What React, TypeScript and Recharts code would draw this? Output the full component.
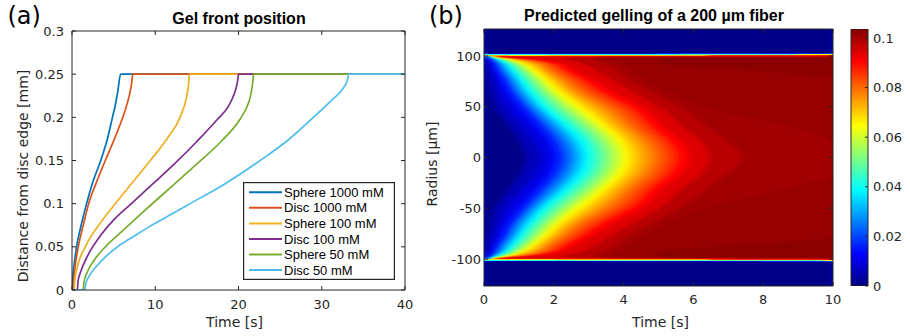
import React from 'react';
import {
  LineChart, Line, XAxis, YAxis, Legend, ComposedChart, Area, CartesianGrid, BarChart, Bar,
} from 'recharts';

// ---------------- Panel (a): gel front position ----------------
const timeTicks = [0, 10, 20, 30, 40];
const distanceTicks = [0, 0.05, 0.1, 0.15, 0.2, 0.25, 0.3];

const sphere1000Time = [0, 0.05, 0.2, 0.55, 1.1, 1.75, 2.5, 3.45, 4.25, 4.86, 5.2, 5.5, 5.84, 40];
const sphere1000Dist = [0, 0.01, 0.025, 0.05, 0.075, 0.1, 0.125, 0.15, 0.175, 0.2, 0.214, 0.23, 0.25, 0.25];

const disc1000Time = [0, 0.15, 0.2, 0.35, 0.75, 1.35, 2.0, 2.95, 4.0, 5.1, 6.1, 6.6, 6.95, 7.17, 7.3, 40];
const disc1000Dist = [0, 0, 0.01, 0.025, 0.05, 0.075, 0.1, 0.125, 0.15, 0.175, 0.2, 0.215, 0.228, 0.24, 0.25, 0.25];

const sphere100Time = [0, 0.25, 0.32, 0.6, 1.6, 3.2, 5.2, 7.3, 9.4, 11.4, 12.97, 13.77, 14.0, 14.1, 40];
const sphere100Dist = [0, 0, 0.01, 0.025, 0.05, 0.075, 0.1, 0.125, 0.15, 0.175, 0.2, 0.224, 0.238, 0.25, 0.25];

const disc100Time = [0, 0.65, 0.72, 1.0, 1.9, 3.2, 4.9, 7.0, 9.6, 12.3, 15.0, 17.5, 18.8, 19.55, 19.85, 19.96, 20.0, 40];
const disc100Dist = [0, 0, 0.01, 0.02, 0.04, 0.06, 0.08, 0.099, 0.122, 0.146, 0.172, 0.198, 0.213, 0.229, 0.24, 0.247, 0.25, 0.25];

const sphere50Time = [0, 1.35, 1.42, 1.8, 2.7, 4.0, 5.6, 7.4, 9.3, 12.1, 15.0, 17.9, 20.2, 21.0, 21.4, 21.65, 21.77, 21.8, 40];
const sphere50Dist = [0, 0, 0.008, 0.02, 0.035, 0.05, 0.0645, 0.0805, 0.097, 0.121, 0.146, 0.172, 0.198, 0.212, 0.223, 0.236, 0.246, 0.25, 0.25];

const disc50Time = [0, 1.55, 1.62, 2.0, 3.0, 4.2, 5.6, 7.4, 9.4, 11.6, 13.8, 18.2, 22.3, 26.0, 29.0, 31.2, 32.6, 33.0, 33.17, 33.22, 40];
const disc50Dist = [0, 0, 0.006, 0.015, 0.028, 0.04, 0.051, 0.062, 0.074, 0.086, 0.098, 0.122, 0.148, 0.174, 0.2, 0.22, 0.234, 0.241, 0.247, 0.25, 0.25];

const seriesNames = ['Sphere 1000 mM', 'Disc 1000 mM', 'Sphere 100 mM', 'Disc 100 mM', 'Sphere 50 mM', 'Disc 50 mM'];
const seriesColors = ['#0072BD', '#D95319', '#EDB120', '#7E2F8E', '#77AC30', '#4DBEEE'];
const seriesTimes = [sphere1000Time, disc1000Time, sphere100Time, disc100Time, sphere50Time, disc50Time];
const seriesDists = [sphere1000Dist, disc1000Dist, sphere100Dist, disc100Dist, sphere50Dist, disc50Dist];

const series = seriesNames.map((name, i) => ({
  name,
  color: seriesColors[i],
  data: seriesTimes[i].map((t, k) => ({ t, d: seriesDists[i][k] })),
}));

// ---------------- Panel (b): predicted gelling map ----------------
const heatTimeTicks = [0, 2, 4, 6, 8, 10];
const radiusTicks = [-100, -50, 0, 50, 100];
const colorbarTicks = [0, 0.02, 0.04, 0.06, 0.08, 0.1];
const colorbarMax = 0.1036;
const radiusLimit = 126.6;

// contour levels of the gelling map
const gelLevels = [0.004, 0.008, 0.012, 0.016, 0.02, 0.024, 0.028, 0.032, 0.036, 0.04, 0.044, 0.048, 0.052, 0.056, 0.06,
  0.064, 0.068, 0.072, 0.076, 0.08, 0.084, 0.088, 0.092, 0.096, 0.0995, 0.1007, 0.1017];

// radii (µm, map is symmetric about 0) and the time (s) at which each level is reached there (10 = not within 10 s)
const radii = [0, 15, 30, 48, 65, 78, 86, 93, 97, 98.8, 99.5, 100.5, 101.3, 101.9, 102.5, 103, 126.6];
const timesR0 = [1.2, 1.62, 1.95, 2.13, 2.28, 2.43, 2.57, 2.71, 2.85, 3.0, 3.17, 3.34, 3.51, 3.68, 3.86, 4.03, 4.22, 4.45, 4.72, 4.98, 5.27, 5.56, 5.88, 6.45, 7.4, 10, 10];
const timesR15 = [1.05, 1.47, 1.8, 1.97, 2.13, 2.28, 2.42, 2.56, 2.7, 2.86, 3.03, 3.19, 3.36, 3.53, 3.7, 3.86, 4.06, 4.28, 4.52, 4.78, 5.06, 5.35, 5.68, 6.25, 7.0, 10, 10];
const timesR30 = [0.75, 1.12, 1.45, 1.62, 1.76, 1.9, 2.04, 2.17, 2.3, 2.44, 2.6, 2.76, 2.93, 3.09, 3.25, 3.41, 3.6, 3.81, 4.04, 4.28, 4.56, 4.84, 5.15, 5.7, 6.4, 8.8, 10];
const timesR48 = [0.35, 0.68, 0.99, 1.14, 1.25, 1.36, 1.47, 1.58, 1.69, 1.81, 1.96, 2.11, 2.27, 2.42, 2.58, 2.73, 2.94, 3.17, 3.41, 3.68, 3.98, 4.28, 4.6, 5.1, 5.7, 6.5, 10];
const timesR65 = [0.2, 0.42, 0.62, 0.73, 0.83, 0.93, 1.03, 1.13, 1.23, 1.33, 1.45, 1.58, 1.7, 1.83, 1.95, 2.07, 2.24, 2.42, 2.6, 2.83, 3.1, 3.38, 3.7, 4.25, 4.8, 5.3, 10];
const timesR78 = [0.13, 0.28, 0.42, 0.52, 0.6, 0.69, 0.77, 0.86, 0.94, 1.03, 1.13, 1.24, 1.35, 1.46, 1.57, 1.67, 1.81, 1.96, 2.12, 2.31, 2.54, 2.77, 3.05, 3.6, 4.1, 4.55, 10];
const timesR86 = [0.09, 0.18, 0.28, 0.36, 0.43, 0.51, 0.59, 0.67, 0.75, 0.82, 0.91, 1.0, 1.1, 1.19, 1.28, 1.38, 1.5, 1.64, 1.78, 1.95, 2.15, 2.35, 2.6, 3.2, 3.8, 4.2, 7.5];
const timesR93 = [0.06, 0.12, 0.18, 0.23, 0.29, 0.35, 0.41, 0.47, 0.53, 0.58, 0.65, 0.72, 0.8, 0.87, 0.94, 1.02, 1.14, 1.28, 1.43, 1.6, 1.78, 1.96, 2.2, 2.8, 3.4, 3.9, 5.0];
const timesR97 = [0.03, 0.06, 0.09, 0.12, 0.15, 0.18, 0.21, 0.24, 0.27, 0.31, 0.36, 0.41, 0.45, 0.5, 0.55, 0.59, 0.66, 0.74, 0.85, 0.96, 1.08, 1.2, 1.4, 2.3, 3.1, 3.6, 5.0];
const timesR98_8 = [0.012, 0.024, 0.036, 0.048, 0.06, 0.072, 0.084, 0.096, 0.108, 0.12, 0.14, 0.16, 0.18, 0.2, 0.22, 0.24, 0.27, 0.3, 0.34, 0.39, 0.45, 0.52, 0.62, 2.6, 3.5, 4.0, 5.2];
const timesR99_5 = [0.01, 0.02, 0.03, 0.04, 0.05, 0.06, 0.07, 0.08, 0.09, 0.1, 0.11, 0.12, 0.14, 0.15, 0.17, 0.19, 0.21, 0.24, 0.27, 0.31, 0.36, 0.42, 0.5, 10, 10, 10, 10];
const timesR100_5 = [0, 0, 0, 0, 0, 0, 0, 0, 0, 0, 0, 0, 0, 0, 0, 0, 0, 0, 0, 0, 0, 10, 10, 10, 10, 10, 10];
const timesR101_3 = [0, 0, 0, 0, 0, 0, 0, 0, 0, 0, 0, 0, 0, 0, 0, 10, 10, 10, 10, 10, 10, 10, 10, 10, 10, 10, 10];
const timesR101_9 = [0, 0, 0, 0, 0, 0, 0, 0, 0, 10, 10, 10, 10, 10, 10, 10, 10, 10, 10, 10, 10, 10, 10, 10, 10, 10, 10];
const timesR102_5 = [0, 0, 0, 10, 10, 10, 10, 10, 10, 10, 10, 10, 10, 10, 10, 10, 10, 10, 10, 10, 10, 10, 10, 10, 10, 10, 10];
const timesR103 = [10, 10, 10, 10, 10, 10, 10, 10, 10, 10, 10, 10, 10, 10, 10, 10, 10, 10, 10, 10, 10, 10, 10, 10, 10, 10, 10];
const timesR126_6 = [10, 10, 10, 10, 10, 10, 10, 10, 10, 10, 10, 10, 10, 10, 10, 10, 10, 10, 10, 10, 10, 10, 10, 10, 10, 10, 10];

const profiles = [timesR0, timesR15, timesR30, timesR48, timesR65, timesR78, timesR86, timesR93, timesR97,
  timesR98_8, timesR99_5, timesR100_5, timesR101_3, timesR101_9, timesR102_5, timesR103, timesR126_6];

const makeRow = (r: number, p: number[]) => {
  const o: Record<string, number> = { r };
  p.forEach((t, k) => { o['t' + k] = t; });
  return o;
};
const heatRows: Record<string, number>[] = [];
for (let i = radii.length - 1; i >= 1; i--) heatRows.push(makeRow(-radii[i], profiles[i]));
for (let i = 0; i < radii.length; i++) heatRows.push(makeRow(radii[i], profiles[i]));

// jet colormap
const jet = (v: number) => {
  const x = v / colorbarMax;
  const c = (u: number) => Math.round(255 * Math.max(0, Math.min(1, u)));
  return `rgb(${c(Math.min(4 * x - 1.5, -4 * x + 4.5))},${c(Math.min(4 * x - 0.5, -4 * x + 3.5))},${c(Math.min(4 * x + 0.5, -4 * x + 2.5))})`;
};
const bandColors = [jet(0.0008)]
  .concat(gelLevels.slice(1).map((L, i) => jet((L + gelLevels[i]) / 2)))
  .concat([jet(0.1024)]);
const jetStops = [
  { o: 0, c: '#000080' }, { o: 0.125, c: '#0000ff' }, { o: 0.375, c: '#00ffff' },
  { o: 0.625, c: '#ffff00' }, { o: 0.875, c: '#ff0000' }, { o: 1, c: '#800000' },
];
const colorbarData = [{ name: 'colorbar', v: colorbarMax }];

// ---------------- styling ----------------
const axisColor = '#262626';
const tickFont = { fontSize: 13, fill: axisColor, fontFamily: 'DejaVu Sans, sans-serif' };
const noLabel = () => '';

const LegendBox = () => (
  <svg width={152} height={98} style={{ display: 'block' }}>
    <rect x={0.6} y={0.6} width={150.8} height={96.8} fill="#fff" stroke={axisColor} strokeWidth={1.2} />
    {series.map((s, i) => {
      const cy = 10.3 + 15.55 * i;
      return (
        <g key={s.name}>
          <line x1={6} x2={39} y1={cy} y2={cy} stroke={s.color} strokeWidth={2} />
          <text x={41} y={cy + 4.6} fontSize={13} fontFamily="Liberation Sans, Arial, sans-serif" fill="#000">{s.name}</text>
        </g>
      );
    })}
  </svg>
);

export default function App() {
  const levelOrder = gelLevels.map((_, i) => i).reverse();
  return (
    <div style={{ position: 'absolute', left: 0, top: 0, width: 910, height: 336, background: '#fff', overflow: 'hidden' }}>
      {/* Panel (a) */}
      <div style={{ position: 'absolute', left: 0, top: 0 }}>
        <LineChart width={455} height={336} margin={{ top: 30, right: 48, bottom: 16, left: 0 }}>
          <XAxis xAxisId="b" type="number" dataKey="t" domain={[0, 40]} ticks={timeTicks} interval={0}
            height={30} tickSize={-4} tickMargin={14} stroke={axisColor} tick={tickFont} allowDataOverflow />
          <XAxis xAxisId="top" orientation="top" type="number" dataKey="t" domain={[0, 40]} ticks={timeTicks} interval={0}
            height={1} tickSize={-4} stroke={axisColor} tickFormatter={noLabel} allowDataOverflow />
          <YAxis yAxisId="l" type="number" domain={[0, 0.3]} ticks={distanceTicks} interval={0}
            width={72} tickSize={-4} tickMargin={12} stroke={axisColor} tick={tickFont} allowDataOverflow />
          <YAxis yAxisId="r" orientation="right" type="number" domain={[0, 0.3]} ticks={distanceTicks} interval={0}
            width={2} tickSize={-4} stroke={axisColor} tickFormatter={noLabel} allowDataOverflow />
          {series.map((s) => (
            <Line key={s.name} xAxisId="b" yAxisId="l" data={s.data} dataKey="d" name={s.name} type="monotone"
              stroke={s.color} strokeWidth={1.7} dot={false} activeDot={false} isAnimationActive={false} />
          ))}
          <Legend layout="vertical" align="center" verticalAlign="middle"
            wrapperStyle={{ left: 243, top: 182, width: 152, height: 98 }}
            content={() => <LegendBox />} />
        </LineChart>
      </div>

      {/* Panel (b) map */}
      <div style={{ position: 'absolute', left: 400, top: 0 }}>
        <ComposedChart layout="vertical" width={450} height={336} data={heatRows}
          margin={{ top: 28, right: 15, bottom: 20, left: 0 }}>
          <defs>
            <filter id="bandSmooth" x="0" y="0" width="1" height="1" filterUnits="objectBoundingBox">
              <feGaussianBlur stdDeviation="3 0" edgeMode="duplicate" />
            </filter>
          </defs>
          <CartesianGrid xAxisId="b" yAxisId="l" horizontal={false} vertical={false} fill={bandColors[27]} fillOpacity={1} />
          {levelOrder.map((i) => (
            <Area key={'lvl' + i} xAxisId="b" yAxisId="l" dataKey={'t' + i} type="monotone"
              fill={bandColors[i]} fillOpacity={1} stroke="none" filter="url(#bandSmooth)"
              dot={false} activeDot={false} isAnimationActive={false} />
          ))}
          <XAxis xAxisId="b" type="number" domain={[0, 10]} ticks={heatTimeTicks} interval={0}
            height={30} tickSize={-4} tickMargin={13} stroke={axisColor} tick={tickFont} allowDataOverflow />
          <XAxis xAxisId="top" orientation="top" type="number" domain={[0, 10]} ticks={heatTimeTicks} interval={0}
            height={1} tickSize={-4} stroke={axisColor} tickFormatter={noLabel} allowDataOverflow />
          <YAxis yAxisId="l" type="number" dataKey="r" domain={[-radiusLimit, radiusLimit]} ticks={radiusTicks} interval={0}
            reversed width={84} tickSize={-4} tickMargin={7} stroke={axisColor} tick={tickFont} allowDataOverflow />
          <YAxis yAxisId="r" orientation="right" type="number" dataKey="r" domain={[-radiusLimit, radiusLimit]} ticks={radiusTicks} interval={0}
            reversed width={2} tickSize={-4} stroke={axisColor} tickFormatter={noLabel} allowDataOverflow />
        </ComposedChart>
      </div>

      {/* Colorbar */}
      <div style={{ position: 'absolute', left: 840, top: 0 }}>
        <BarChart width={70} height={336} data={colorbarData} margin={{ top: 29, right: 2, bottom: 50, left: 11 }}
          barCategoryGap={0}>
          <defs>
            <linearGradient id="jetGradient" x1="0" y1="1" x2="0" y2="0">
              {jetStops.map((s) => <stop key={s.o} offset={s.o} stopColor={s.c} />)}
            </linearGradient>
          </defs>
          <XAxis dataKey="name" hide />
          <YAxis orientation="right" type="number" domain={[0, colorbarMax]} ticks={colorbarTicks} interval={0}
            width={40} tickSize={-3} tickMargin={8} stroke={axisColor} axisLine={false} tick={tickFont} allowDataOverflow />
          <Bar dataKey="v" fill="url(#jetGradient)" stroke={axisColor} strokeWidth={1} isAnimationActive={false} />
        </BarChart>
      </div>

      {/* Titles and labels */}
      <svg width={910} height={336} style={{ position: 'absolute', left: 0, top: 0, pointerEvents: 'none' }}>
        <text x={7.5} y={24} fontSize={24} fontFamily="DejaVu Sans, sans-serif" fill="#000">(a)</text>
        <text x={429} y={24} fontSize={24} fontFamily="DejaVu Sans, sans-serif" fill="#000">(b)</text>
        <text x={239} y={23.5} textAnchor="middle" fontSize={16} fontWeight="bold" fontFamily="Liberation Sans, Arial, sans-serif" fill="#000">Gel front position</text>
        <text x={654} y={21} textAnchor="middle" fontSize={16} fontWeight="bold" fontFamily="Liberation Sans, Arial, sans-serif" fill="#000">Predicted gelling of a 200 µm fiber</text>
        <text x={234.5} y={327} textAnchor="middle" fontSize={14} fontFamily="DejaVu Sans, sans-serif" fill={axisColor}>Time [s]</text>
        <text x={660.5} y={327} textAnchor="middle" fontSize={14} fontFamily="DejaVu Sans, sans-serif" fill={axisColor}>Time [s]</text>
        <text transform="translate(27.5,176) rotate(-90)" textAnchor="middle" fontSize={14} fontFamily="DejaVu Sans, sans-serif" fill={axisColor}>Distance from disc edge [mm]</text>
        <text transform="translate(437,164) rotate(-90)" textAnchor="middle" fontSize={14} fontFamily="DejaVu Sans, sans-serif" fill={axisColor}>Radius [µm]</text>
      </svg>
    </div>
  );
}
